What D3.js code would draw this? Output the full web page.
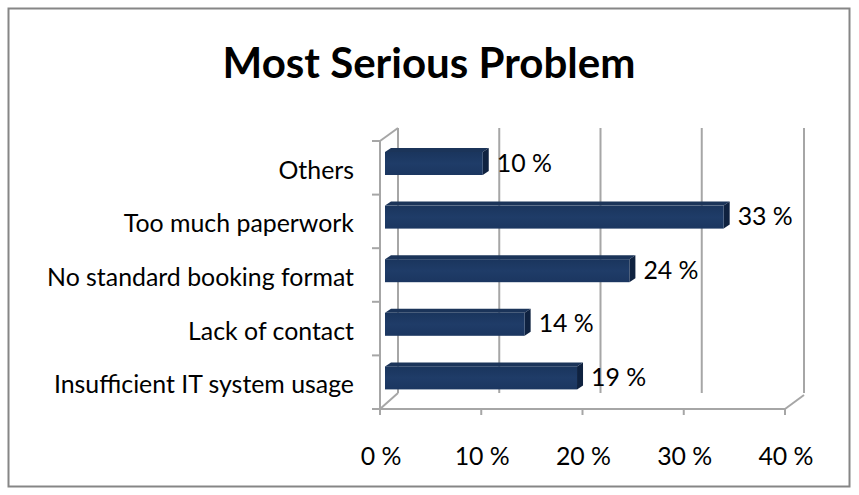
<!DOCTYPE html>
<html><head><meta charset="utf-8">
<script src="https://cdn.jsdelivr.net/npm/d3@7/dist/d3.min.js"></script>
<style>html,body{margin:0;padding:0;background:#fff;}svg{display:block;}</style>
</head><body><svg id="c" width="859" height="495"></svg>
<script>
const title = "Most Serious Problem";
const categories = ["Others","Too much paperwork","No standard booking format","Lack of contact","Insufficient IT system usage"];
const values = [10,33,24,14,19];
const valueLabels = ["10 %","33 %","24 %","14 %","19 %"];
const tickValues = [0,10,20,30,40];
const tickLabels = ["0 %","10 %","20 %","30 %","40 %"];

const FONT = "Lato, 'Open Sans', sans-serif";
const svg = d3.select("#c");
const grey = "#a6a6a6";

// outer border
svg.append("rect").attr("x",8.5).attr("y",8.5).attr("width",841).attr("height",478)
  .attr("fill","#fff").attr("stroke","#868686").attr("stroke-width",2);

// title
const t = svg.append("text").text(title).attr("x",429).attr("y",78)
  .attr("text-anchor","middle").attr("font-family",FONT).attr("font-weight","bold")
  .attr("font-size",36).attr("fill","#000");
{ const w = t.node().getComputedTextLength(); t.attr("font-size",36*413/w); }

const x = d3.scaleLinear().domain([0,40]).range([380,785]);   // front plane
const xBar = d3.scaleLinear().domain([0,40]).range([378,797]); // bar depth plane
const y = d3.scaleBand().domain(categories).range([141,409]);
const DX = 18, DYT = -13, DYB = -16;

const g = svg.append("g").attr("fill","none").attr("stroke",grey).attr("stroke-width",2);
// back wall gridlines
tickValues.forEach(v=>{
  g.append("line").attr("x1",x(v)+DX+(v===40?1:0)).attr("x2",x(v)+DX+(v===40?1:0))
    .attr("y1",y.range()[0]+DYT).attr("y2",y.range()[1]+DYB);
});
// left wall diagonals
g.append("line").attr("x1",x(0)).attr("y1",y.range()[0]).attr("x2",x(0)+DX).attr("y2",y.range()[0]+DYT);
g.append("line").attr("x1",x(0)).attr("y1",y.range()[1]).attr("x2",x(0)+DX).attr("y2",y.range()[1]+DYB);
// right floor diagonal
g.append("line").attr("x1",x(40)).attr("y1",y.range()[1]).attr("x2",x(40)+DX+1).attr("y2",y.range()[1]+DYB+2);
// front vertical axis
g.append("line").attr("x1",x(0)).attr("x2",x(0)).attr("y1",y.range()[0]).attr("y2",y.range()[1]);
// front floor line
g.append("line").attr("x1",x(0)-8).attr("x2",x(40)).attr("y1",y.range()[1]).attr("y2",y.range()[1]);
// category ticks
const bounds = categories.map(c=>y(c)).concat([y.range()[1]]);
bounds.forEach(b=>g.append("line").attr("x1",x(0)-8).attr("x2",x(0)).attr("y1",b).attr("y2",b));
// value ticks
tickValues.forEach(v=>g.append("line").attr("x1",x(v)).attr("x2",x(v)).attr("y1",y.range()[1]).attr("y2",y.range()[1]+6));

// gradient for front faces
const defs = svg.append("defs");
const grad = defs.append("linearGradient").attr("id","fg").attr("x1",0).attr("y1",0).attr("x2",0).attr("y2",1);
grad.append("stop").attr("offset","0%").attr("stop-color","#1a355d");
grad.append("stop").attr("offset","50%").attr("stop-color","#1f3c68");
grad.append("stop").attr("offset","100%").attr("stop-color","#1b3660");

// bars
const BX0 = 385, BDX = 6, BDY = -4;
categories.forEach((c,i)=>{
  const y0 = y(c)+11, y1 = y(c)+34;
  const x1 = xBar(values[i]);
  svg.append("polygon").attr("points",[[BX0,y0],[BX0+BDX,y0+BDY],[x1+BDX,y0+BDY],[x1,y0]].join(" "))
    .attr("fill","#1b3459");
  svg.append("polygon").attr("points",[[x1,y0],[x1+BDX,y0+BDY],[x1+BDX,y1+BDY],[x1,y1]].join(" "))
    .attr("fill","#0f2240");
  svg.append("rect").attr("x",BX0).attr("y",y0).attr("width",x1-BX0).attr("height",y1-y0)
    .attr("fill","url(#fg)");
  svg.append("text").text(valueLabels[i]).attr("x",x1+BDX+8).attr("y",(y0+y1)/2-2)
    .attr("dominant-baseline","central").attr("font-family",FONT).attr("font-size",18).attr("fill","#000");
});

// category labels
const catText = svg.append("g").selectAll("text").data(categories).join("text")
  .text(d=>d).attr("x",354).attr("y",d=>y(d)+y.bandwidth()/2+1)
  .attr("text-anchor","end").attr("dominant-baseline","central")
  .attr("font-family",FONT).attr("font-size",18).attr("fill","#000");
{ const n = catText.filter(d=>d==="No standard booking format").node();
  const w = n.getComputedTextLength(); const fs = 18*307/w;
  catText.attr("font-size",fs); svg.selectAll("text").filter(function(){return this.textContent.endsWith("%");}).attr("font-size",fs); }

// x tick labels
svg.append("g").selectAll("text").data(tickValues).join("text")
  .text((d,i)=>tickLabels[i]).attr("x",d=>x(d)+1).attr("y",455)
  .attr("text-anchor","middle").attr("dominant-baseline","central")
  .attr("font-family",FONT).attr("font-size",catText.attr("font-size")).attr("fill","#000");
</script></body></html>
